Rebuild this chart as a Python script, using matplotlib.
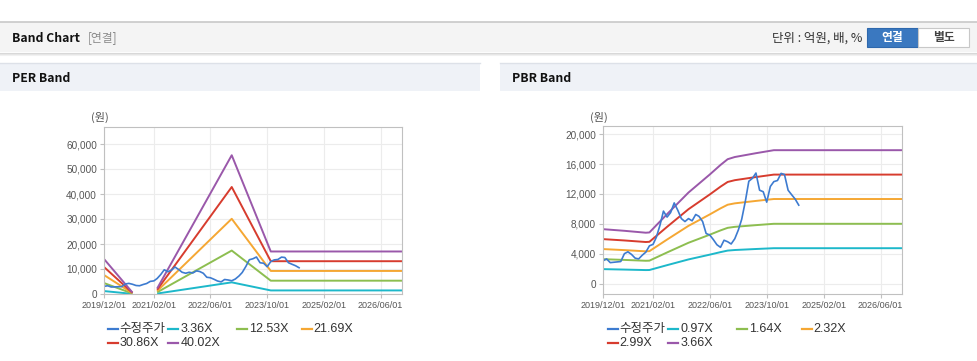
import matplotlib
matplotlib.use('Agg')
import matplotlib.pyplot as plt
from matplotlib.patches import Rectangle
from matplotlib.lines import Line2D
from matplotlib.ticker import FuncFormatter
import numpy as np
import pandas as pd

plt.rcParams['font.family'] = ['Liberation Sans', 'Noto Sans CJK KR']

# ---- data ----
price_start = '2019-12-01'
# 수정주가, monthly from 2019/12
price = [3050, 3300, 2800, 2850, 2900, 2950, 4000, 4250, 3900, 3400,
         3300, 3800, 4200, 5050, 5250, 6200, 7800, 9700, 8900, 9500,
         10800, 9800, 8700, 8300, 8700, 8400, 9250, 9000, 8300, 6700,
         6500, 5900, 5200, 4850, 5800, 5600, 5300, 6000, 7200, 8600,
         11000, 13700, 14100, 14800, 12500, 12300, 10900, 13000, 13650, 13800,
         14750, 14600, 12500, 11900, 11300, 10500]

per_dates = ['2019-12-01', '2020-08-01', '2020-09-01', '2021-03-01',
             '2022-12-01', '2023-11-01', '2026-12-01']
per_eps = [350, 15, np.nan, 55, 1387, 425, 425]
per_mult = [3.36, 12.53, 21.69, 30.86, 40.02]

pbr_dates = ['2019-12-01', '2020-06-01', '2020-12-01', '2021-01-01', '2021-06-01',
             '2021-12-01', '2022-06-01', '2022-09-01', '2022-11-01', '2023-01-01',
             '2023-07-01', '2023-12-01', '2026-12-01']
pbr_bps = [1990, 1930, 1860, 1870, 2540, 3330, 3990, 4340, 4550, 4630, 4770, 4880, 4880]
pbr_mult = [0.97, 1.64, 2.32, 2.99, 3.66]

tick_dates = ['2019-12-01', '2021-02-01', '2022-06-01', '2023-10-01', '2025-02-01', '2026-06-01']
per_yticks = [0, 10000, 20000, 30000, 40000, 50000, 60000]
pbr_yticks = [0, 4000, 8000, 12000, 16000, 20000]

price_color = '#3d7bd0'
band_colors = ['#1db8ca', '#8dbe50', '#f5a733', '#d73c2e', '#9a58aa']

# ---- figure ----
W, H = 978, 361
fig = plt.figure(figsize=(W / 100, H / 100), dpi=100)


def box(x0, y0, x1, y1):
    return [x0 / W, 1 - y1 / H, (x1 - x0) / W, (y1 - y0) / H]


def rect(x0, y0, x1, y1, **kw):
    fig.patches.append(Rectangle((x0 / W, 1 - y1 / H), (x1 - x0) / W, (y1 - y0) / H,
                                 transform=fig.transFigure, **kw))


def hline(x0, x1, y, **kw):
    fig.add_artist(Line2D([x0 / W, x1 / W], [1 - y / H, 1 - y / H],
                          transform=fig.transFigure, **kw))


def text(x, y, s, **kw):
    fig.text(x / W, 1 - y / H, s, **kw)


KR = ['Noto Sans CJK KR']

# header bar
rect(0, 22, W, 52, facecolor='#f4f4f4', edgecolor='none')
hline(0, W, 22, color='#c8c8c8', lw=1.2)
for i, c in enumerate(['#d8d8d8', '#e6e6e6', '#f1f1f1']):
    hline(0, W, 52.5 + i, color=c, lw=0.8)
text(12, 38, 'Band Chart', fontsize=8.8, fontweight='bold', color='#111', va='center', family=KR)
text(88, 38, '[연결]', fontsize=8.5, color='#8a8a8a', va='center', family=KR)
text(862, 38, '단위 : 억원, 배, %', fontsize=9, color='#333', va='center', ha='right', family=KR)
rect(867, 28, 918, 47, facecolor='#3a78c0', edgecolor='#2e68ad', lw=0.8)
rect(918, 28, 969, 47, facecolor='white', edgecolor='#c8c8c8', lw=0.8)
text(892.5, 37.5, '연결', fontsize=8.5, color='white', fontweight='bold', ha='center', va='center',
     family=KR)
text(943.5, 37.5, '별도', fontsize=8.5, color='#444', fontweight='bold', ha='center', va='center',
     family=KR)

# section headers
for x0, x1, title in [(0, 480, 'PER Band'), (500, W, 'PBR Band')]:
    rect(x0, 63, x1, 91, facecolor='#eff2f7', edgecolor='none')
    hline(x0, x1, 63, color='#dde1e8', lw=1.0)
    text(x0 + 12, 78, title, fontsize=8.8, fontweight='bold', color='#111', va='center', family=KR)


def draw_panel(rect_px, base_dates, base_vals, mults, yticks, ylim, leg_x):
    ax = fig.add_axes(box(*rect_px))
    d = pd.to_datetime(base_dates)
    base = np.array(base_vals, dtype=float)
    for m, c in zip(mults, band_colors):
        ax.plot(d, base * m, color=c, lw=1.4, solid_capstyle='butt')
    pd_dates = pd.date_range(price_start, periods=len(price), freq='MS')
    ax.plot(pd_dates, price, color=price_color, lw=1.2)

    ax.set_xlim(pd.Timestamp('2019-12-01'), pd.Timestamp('2026-12-01'))
    ax.set_ylim(*ylim)
    ax.set_yticks(yticks)
    ax.yaxis.set_major_formatter(FuncFormatter(lambda v, p: f'{int(v):,}'))
    ax.set_xticks(pd.to_datetime(tick_dates))
    ax.set_xticklabels([t.replace('-', '/') for t in tick_dates])
    ax.grid(True, color='#ececec', lw=0.8)
    ax.set_axisbelow(True)
    for s in ax.spines.values():
        s.set_color('#c0c0c0')
        s.set_linewidth(0.8)
    ax.tick_params(colors='#555555', length=3, color='#c0c0c0', pad=2)
    ax.tick_params(axis='x', labelsize=6.5)
    ax.tick_params(axis='y', labelsize=7.2)

    text(rect_px[0] - 4, 117, '(원)', fontsize=8, color='#555', ha='center', va='center', family=KR)

    # legend
    labels = ['수정주가'] + [f'{m:.2f}X' for m in mults]
    colors = [price_color] + band_colors
    cols = [0, 60.5, 129, 194]
    for i, (lab, c) in enumerate(zip(labels, colors)):
        x = leg_x + cols[i % 4]
        y = 329 + 14 * (i // 4)
        hline(x, x + 10, y, color=c, lw=1.6)
        text(x + 12, y, lab, fontsize=9, color='#333', va='center',
             family=['Liberation Sans', 'Noto Sans CJK KR'])
    return ax


draw_panel((104, 127, 402, 294), per_dates, per_eps, per_mult, per_yticks, (0, 66800), 107.7)
draw_panel((603, 126, 902, 294), pbr_dates, pbr_bps, pbr_mult, pbr_yticks, (-1400, 21100), 607.7)

fig.savefig('out.png', dpi=100, facecolor='white')
